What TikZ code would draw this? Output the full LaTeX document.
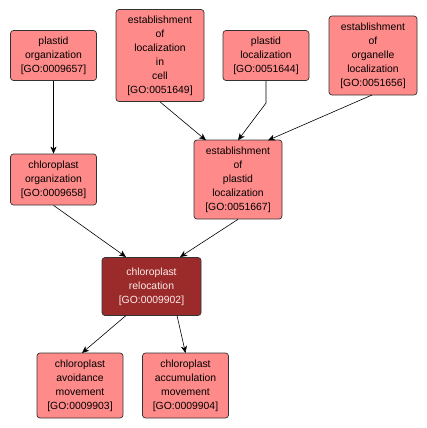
\documentclass[tikz,border=0pt]{standalone}
\usepackage{fontspec}
\setmainfont{Liberation Sans}
\usetikzlibrary{arrows.meta}
\definecolor{lightfill}{HTML}{FF8A8A}
\definecolor{darkfill}{HTML}{9B2B2B}
\tikzset{
  go/.style={draw=black!80, line width=0.7pt, rounded corners=3pt, fill=lightfill, align=center,
    font=\fontsize{10.4}{14}\selectfont, inner sep=0pt},
  godark/.style={go, fill=darkfill, text=white!92!red},
  edge/.style={draw=black, line width=0.6pt, -{Stealth[length=7pt,width=6pt,inset=2pt]}}
}
\begin{document}
\begin{tikzpicture}[x=1pt,y=-1pt]
\useasboundingbox (0,0) rectangle (427,428);
\node[go, minimum width=86pt, minimum height=50pt] (po) at (53.5,55.5) {plastid\\organization\\{[GO:0009657]}};
\node[go, minimum width=88pt, minimum height=92pt] (elc) at (160,55.5) {establishment\\of\\localization\\in\\cell\\{[GO:0051649]}};
\node[go, minimum width=86pt, minimum height=50pt] (pl) at (266,55.5) {plastid\\localization\\{[GO:0051644]}};
\node[go, minimum width=88pt, minimum height=79pt] (eol) at (373,55.5) {establishment\\of\\organelle\\localization\\{[GO:0051656]}};
\node[go, minimum width=86pt, minimum height=51pt] (co) at (53.5,179.5) {chloroplast\\organization\\{[GO:0009658]}};
\node[go, minimum width=88pt, minimum height=79pt] (epl) at (238,179.5) {establishment\\of\\plastid\\localization\\{[GO:0051667]}};
\node[godark, minimum width=99pt, minimum height=58pt] (cr) at (151.5,286.5) {chloroplast\\relocation\\{[GO:0009902]}};
\node[go, minimum width=86pt, minimum height=65pt] (cam) at (80,385.5) {chloroplast\\avoidance\\movement\\{[GO:0009903]}};
\node[go, minimum width=86pt, minimum height=65pt] (cacc) at (185.5,385.5) {chloroplast\\accumulation\\movement\\{[GO:0009904]}};
\coordinate (bend) at (266,103);
\draw[edge] (po.south) -- (co.north);
\draw[edge] (elc.south) -- (206,140.3);
\draw[edge] (pl.south) -- (bend) -- (238,140.3);
\draw[edge] (372,95) -- (268,140.3);
\draw[edge] (co.south) -- (126,257);
\draw[edge] (epl.south) -- (180,257);
\draw[edge] (126,315.5) -- (82,353);
\draw[edge] (177,315.5) -- (185.5,353);
\end{tikzpicture}
\end{document}
